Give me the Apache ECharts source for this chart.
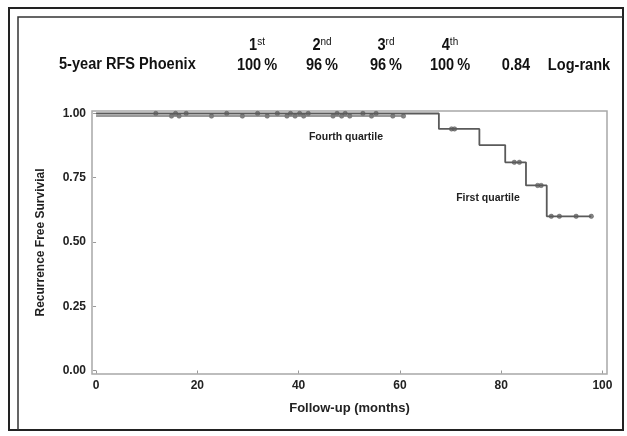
<!DOCTYPE html>
<html>
<head>
<meta charset="utf-8">
<script src="https://cdn.jsdelivr.net/npm/echarts@6/dist/echarts.min.js"></script>
<style>
  html, body { margin: 0; padding: 0; background: #fff; }
  #chart { width: 627px; height: 436px; }
</style>
</head>
<body>
<div id="chart"></div>
<script>
// Kaplan-Meier steps (time in months, survival)
var firstTimes = [0, 67.7, 75.7, 80.8, 84.9, 89.0, 97.8];
var firstSurv = [1, 0.94, 0.877, 0.81, 0.72, 0.60, 0.60];
var fourthTimes = [0, 60.7];
var fourthSurv = [0.99, 0.99];

// censored observations
var firstCensor = [11.8, 15.7, 17.8, 25.8, 31.9, 35.8, 38.4, 40.2, 41.9, 47.6, 49.2, 52.7, 55.3,
    70.2, 70.8, 82.6, 83.6, 87.2, 87.9, 89.9, 91.5, 94.8, 97.8];
var fourthCensor = [14.9, 16.4, 22.8, 28.9, 33.8, 37.7, 39.3, 41.0, 46.8, 48.5, 50.1, 54.4, 58.6, 60.7];

var xTicks = [0, 20, 40, 60, 80, 100];
var yTicks = [0, 0.25, 0.5, 0.75, 1];

// header table
var groups = ['1', '2', '3', '4'];
var suffixes = ['st', 'nd', 'rd', 'th'];
var rfs = ['100\u2009%', '96\u2009%', '96\u2009%', '100\u2009%'];
var pValue = '0.84';

function pairs(t, s) {
    return t.map(function (v, i) { return [v, s[i]]; });
}
// survival at time t from the step curve
function survAt(t, times, surv) {
    var v = surv[0];
    for (var i = 0; i < times.length; i++) {
        if (times[i] <= t) v = surv[i];
    }
    return v;
}
function censorPts(c, times, surv) {
    return c.map(function (t) { return [t, survAt(t, times, surv)]; });
}

var sans = "'Liberation Sans', Arial, sans-serif";
var head = 'bold 16px ' + sans;   // squeezed with scaleX to look like Arial Narrow
var squeeze = 0.91;
var lineColor = '#5a5a5a';

function headText(txt, x, y, align) {
    return {
        type: 'text', x: x, y: y, scaleX: squeeze,
        style: {text: txt, font: head, fill: '#111', textAlign: align || 'center', textVerticalAlign: 'middle'}
    };
}

var graphics = [
    {type: 'rect', shape: {x: 9, y: 8, width: 614, height: 422}, style: {fill: null, stroke: '#222', lineWidth: 2}},
    {type: 'polyline', shape: {points: [[18, 430], [18, 17], [623, 17]]}, style: {fill: null, stroke: '#333', lineWidth: 1.5}},
    headText('5-year RFS Phoenix', 59, 65, 'left'),
    headText(pValue, 516, 66),
    headText('Log-rank', 579, 66),
    {type: 'text', x: 346, y: 137, style: {text: 'Fourth quartile', font: 'bold 10.5px ' + sans, fill: '#222', textAlign: 'center', textVerticalAlign: 'middle'}},
    {type: 'text', x: 488, y: 198, style: {text: 'First quartile', font: 'bold 10.5px ' + sans, fill: '#222', textAlign: 'center', textVerticalAlign: 'middle'}}
];
var colX = [257, 322, 386, 450];
groups.forEach(function (g, i) {
    graphics.push({
        type: 'text', x: colX[i], y: 45, scaleX: squeeze,
        style: {
            text: '{n|' + g + '}{s|' + suffixes[i] + '}',
            textAlign: 'center', textVerticalAlign: 'middle',
            rich: {
                n: {font: head, fill: '#111', verticalAlign: 'bottom'},
                s: {font: '11px ' + sans, fill: '#111', verticalAlign: 'top', padding: [0, 0, 6, 0]}
            }
        }
    });
    graphics.push(headText(rfs[i], colX[i], 66));
});

var chart = echarts.init(document.getElementById('chart'));
var option = {
    backgroundColor: '#fff',
    animation: false,
    grid: {
        left: 92, right: 20, top: 111, bottom: 62,
        show: true, borderColor: '#a8a8a8', borderWidth: 1.5,
        outerBoundsMode: 'none'
    },
    xAxis: {
        type: 'value', min: -0.8, max: 100.9,
        name: 'Follow-up (months)', nameLocation: 'middle', nameGap: 28,
        nameTextStyle: {fontFamily: sans, fontWeight: 'bold', fontSize: 13, color: '#222'},
        axisLine: {show: false},
        axisTick: {show: true, length: 3, lineStyle: {color: '#999'}, customValues: xTicks},
        axisLabel: {customValues: xTicks, margin: 6, fontFamily: sans, fontWeight: 'bold', fontSize: 12, color: '#222'},
        splitLine: {show: false}
    },
    yAxis: {
        type: 'value', min: -0.0136, max: 1.0097,
        name: 'Recurrence Free Survivial', nameLocation: 'middle', nameGap: 45,
        nameTextStyle: {fontFamily: sans, fontWeight: 'bold', fontSize: 12, color: '#222'},
        axisLine: {show: false},
        axisTick: {show: true, length: 3, lineStyle: {color: '#999'}, customValues: yTicks},
        axisLabel: {
            customValues: yTicks, margin: 6, fontFamily: sans, fontWeight: 'bold', fontSize: 12, color: '#222',
            formatter: function (v) { return v.toFixed(2); }
        },
        splitLine: {show: false}
    },
    series: [
        {
            name: 'Fourth quartile', type: 'line', step: 'end', showSymbol: false,
            data: pairs(fourthTimes, fourthSurv),
            lineStyle: {color: '#777', width: 1.6}
        },
        {
            name: 'First quartile', type: 'line', step: 'end', showSymbol: false,
            data: pairs(firstTimes, firstSurv),
            lineStyle: {color: lineColor, width: 1.8}
        },
        {
            name: 'Fourth censored', type: 'scatter', symbol: 'circle', symbolSize: 4.5,
            data: censorPts(fourthCensor, fourthTimes, fourthSurv),
            itemStyle: {color: '#6a6a6a', borderColor: '#444', borderWidth: 0.5}
        },
        {
            name: 'First censored', type: 'scatter', symbol: 'circle', symbolSize: 4.5,
            data: censorPts(firstCensor, firstTimes, firstSurv),
            itemStyle: {color: '#6a6a6a', borderColor: '#444', borderWidth: 0.5}
        }
    ],
    graphic: graphics
};
chart.setOption(option);
</script>
</body>
</html>
